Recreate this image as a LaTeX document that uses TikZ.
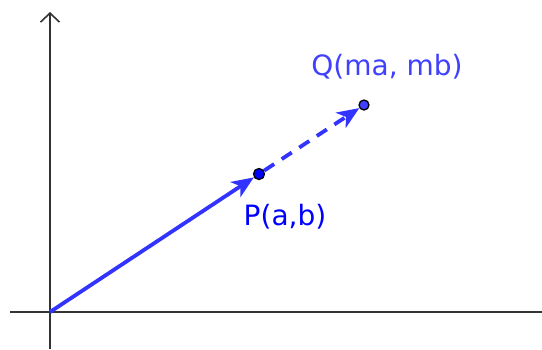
\documentclass[tikz,border=0pt]{standalone}
\usepackage{fontspec}
\setmainfont{DejaVu Sans}
\usetikzlibrary{arrows.meta}
\definecolor{vecblue}{RGB}{51,51,255}
\definecolor{ptblue}{RGB}{0,0,255}
\definecolor{qblue}{RGB}{64,64,255}
\tikzset{
  eje/.style={line width=1.6pt, black!80},
  vec/.style={line width=3.8pt, vecblue, -{Stealth[length=22pt, width=18pt, inset=6pt]}},
  punto/.style={circle, draw=black, line width=1.3pt, inner sep=0pt, minimum size=11pt},
  etiq/.style={font=\fontsize{28}{33}\selectfont}
}
\begin{document}
\begin{tikzpicture}[x=1pt, y=-1pt]
            \useasboundingbox (0,0) rectangle (542,349);

            % 1. Ejes
            \coordinate (O) at (50,312);
            \coordinate (ytop) at (50,12);
            \coordinate (ybot) at (50,349);
            \coordinate (xizq) at (10,312);
            \coordinate (xder) at (542,312);
            \draw[eje, -{Straight Barb[length=9pt, width=19pt, line width=1.6pt]}] (ybot) -- (ytop);
            \draw[eje] (xizq) -- (xder);

            % 2. Puntos P y Q
            \node[punto, fill=ptblue] (P) at (259,174) {};
            \node[punto, fill=qblue, minimum size=10pt] (Q) at (364,105) {};

            % 3. Vectores
            \draw[vec] (O) -- (P);
            \draw[vec, dashed, dash pattern=on 12pt off 9pt] (P) -- (Q);

            % 4. Etiquetas
            \node[etiq, text=ptblue] (Plab) at (285,217) {P(a,b)};
            \node[etiq, text=qblue] (Qlab) at (387,67) {Q(ma, mb)};
        \end{tikzpicture}
\end{document}
